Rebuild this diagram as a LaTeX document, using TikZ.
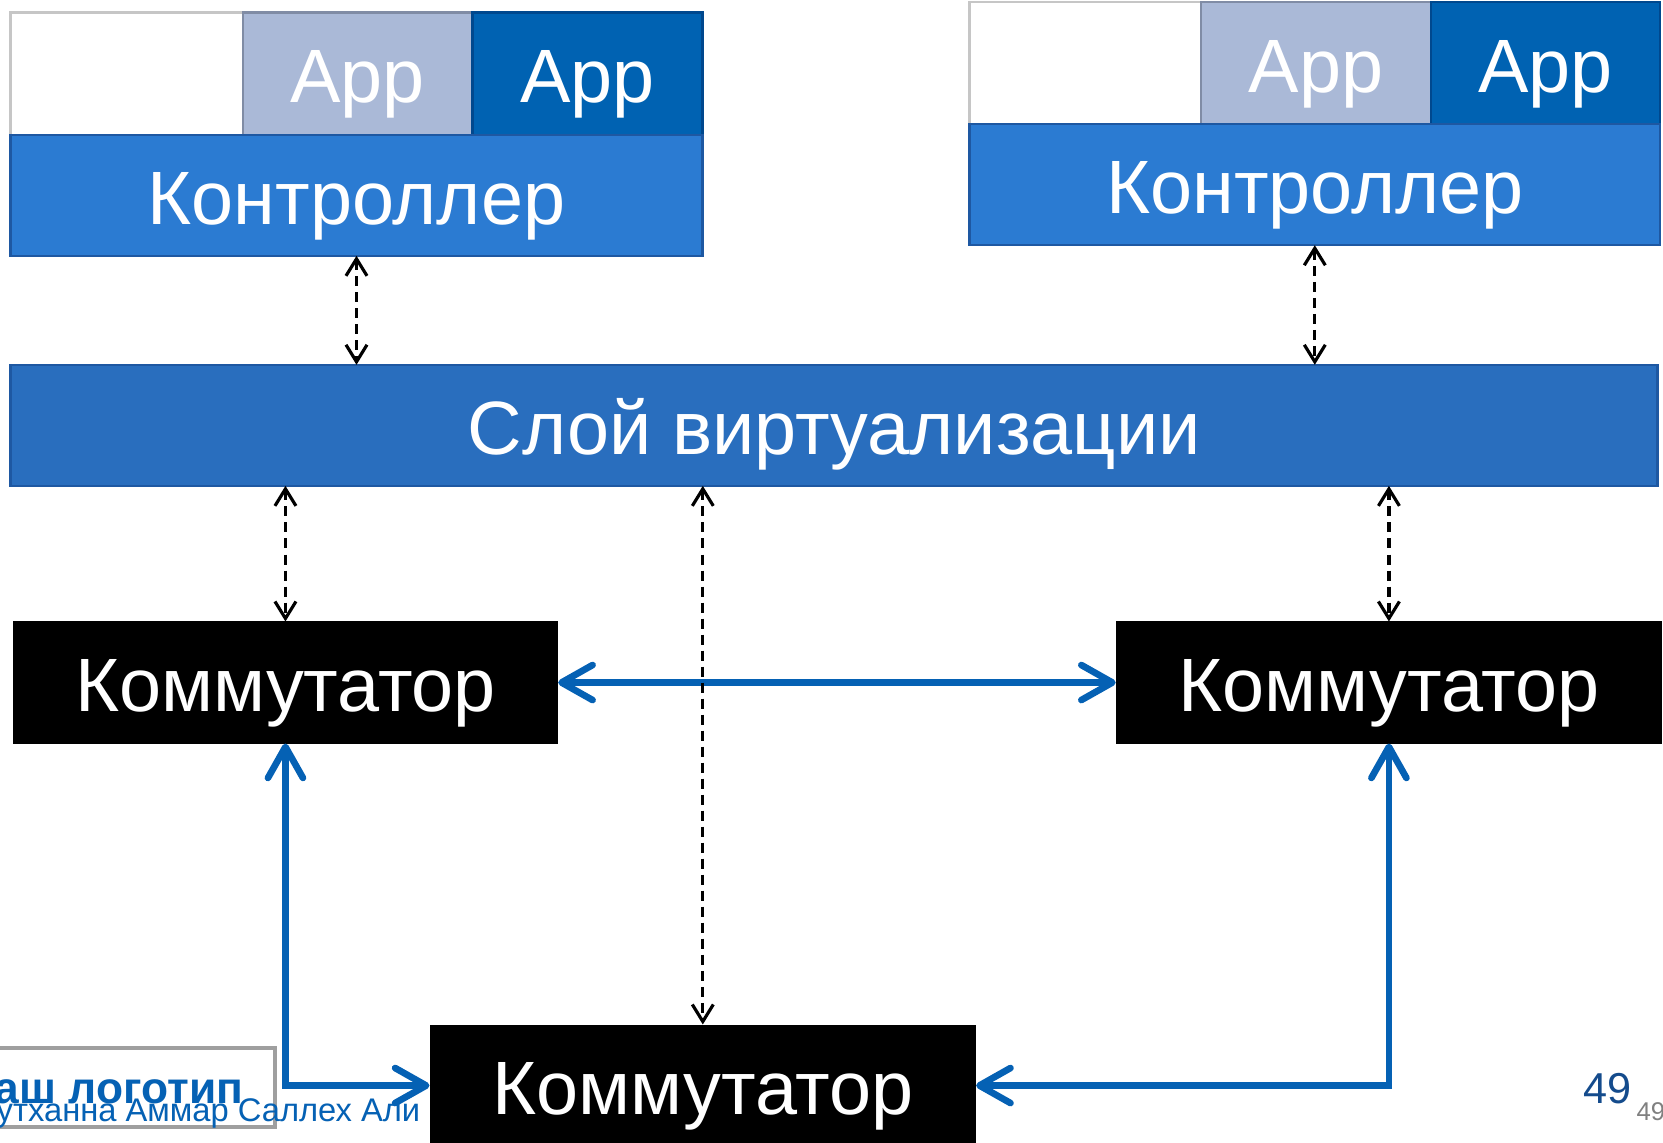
\documentclass[tikz,border=0pt]{standalone}
\usepackage{fontspec}
\setmainfont{Liberation Sans}
\usetikzlibrary{arrows.meta, positioning}
\definecolor{appgrey}{RGB}{170,185,215}
\definecolor{appgreyline}{RGB}{128,140,165}
\definecolor{appblue}{RGB}{0,98,178}
\definecolor{appblueline}{RGB}{0,72,142}
\definecolor{ctrlblue}{RGB}{43,123,210}
\definecolor{virtblue}{RGB}{41,110,190}
\definecolor{boxline}{RGB}{30,88,162}
\definecolor{linkblue}{RGB}{5,97,180}
\definecolor{pagegrey}{RGB}{128,128,128}
\definecolor{pageblue}{RGB}{20,75,140}
\tikzset{
    bigtext/.style = {font=\fontsize{21.5}{26}\selectfont, text=white, text height=0.74cm, text depth=0.16cm},
    emptybox/.style = {rectangle, minimum height=1.22cm, inner sep=0pt, outer sep=0pt, draw=gray!45, line width=0.7pt, fill=white},
    appbox/.style = {rectangle, minimum height=1.22cm, inner sep=0pt, outer sep=0pt, line width=0.7pt, bigtext},
    ctrl/.style = {rectangle, minimum height=1.21cm, inner sep=0pt, outer sep=0pt, draw=boxline, line width=0.7pt, fill=ctrlblue, bigtext},
    switch/.style = {rectangle, minimum height=1.22cm, inner sep=0pt, outer sep=0pt, fill=black, bigtext},
    link/.style = {draw=linkblue, line width=1.9pt, <->, >={Straight Barb[length=3.1mm, width=3.5mm, round]}},
    ctrlarrow/.style = {line width=0.9pt, dash pattern=on 0.1cm off 0.06cm, <->, >={Straight Barb[length=1.7mm, width=2.1mm]}},
    logobox/.style = {rectangle, minimum width=3.44cm, minimum height=0.79cm, inner sep=0pt, draw=gray!75, line width=1.1pt, fill=white, text=linkblue, font=\fontsize{12.6}{14}\selectfont\bfseries, text height=0.36cm, text depth=0.05cm},
    smalltext/.style = {inner sep=0pt, text=linkblue, font=\fontsize{9.3}{11}\selectfont}
}
\begin{document}
\begin{tikzpicture}[x=0.01cm, y=-0.01cm]
\path[use as bounding box, clip] (0,0) rectangle (1663,1143);

% left controller with its apps
\node[emptybox, minimum width=2.323cm, anchor=north west] (freeL) at (10.6,12.7) {};
\node[appbox, minimum width=2.291cm, fill=appgrey, draw=appgreyline, right=0pt of freeL] (appL1) {App};
\node[appbox, minimum width=2.30cm, fill=appblue, draw=appblueline, right=0pt of appL1] (appL2) {App};
\node[ctrl, minimum width=6.914cm, anchor=north west] (ctrlL) at (freeL.south west) {Контроллер};

% right controller with its apps
\node[emptybox, minimum width=2.312cm, anchor=north west] (freeR) at (969.4,2.1) {};
\node[appbox, minimum width=2.301cm, fill=appgrey, draw=appgreyline, right=0pt of freeR] (appR1) {App};
\node[appbox, minimum width=2.291cm, fill=appblue, draw=appblueline, right=0pt of appR1] (appR2) {App};
\node[ctrl, minimum width=6.904cm, anchor=north west] (ctrlR) at (freeR.south west) {Контроллер};

\node[ctrl, fill=virtblue, minimum width=16.46cm, anchor=north west] (virt) at (10.6,364.8) {Слой виртуализации};

% switches
\node[switch, minimum width=5.452cm, anchor=north west] (swL) at (12.7,621.5) {Коммутатор};
\node[switch, minimum width=5.461cm, anchor=north west] (swR) at (1115.7,621.5) {Коммутатор};
\node[switch, minimum width=5.463cm, anchor=north west] (swB) at (429.5,1024.5) {Коммутатор};

\draw[link] (swL.east) -- (swR.west);
\draw[link] (swL.south) |- (swB.west);
\draw[link] (swR.south) |- (swB.east);

\draw[ctrlarrow] (ctrlL.south) -- (ctrlL.south |- virt.north);
\draw[ctrlarrow] (ctrlR.south) -- (ctrlR.south |- virt.north);
\draw[ctrlarrow] (virt.south -| swL.north) -- (swL.north);
\draw[ctrlarrow] (virt.south -| swB.north) -- (swB.north);
\draw[ctrlarrow] (virt.south -| swR.north) -- (swR.north);

% footer
\node[logobox, anchor=east] (logo) at (277,1087.5) {Ваш логотип};
\node[smalltext, anchor=base east] (author) at (421,1121) {Мутханна Аммар Саллех Али};
\node[inner sep=0pt, text=pageblue, font=\fontsize{12.3}{14}\selectfont, anchor=base east] (pagenum) at (1632,1103) {49};
\node[inner sep=0pt, text=pagegrey, font=\fontsize{7.3}{9}\selectfont, anchor=base west] (pagenumsmall) at (1636,1120) {49};
\end{tikzpicture}
\end{document}
